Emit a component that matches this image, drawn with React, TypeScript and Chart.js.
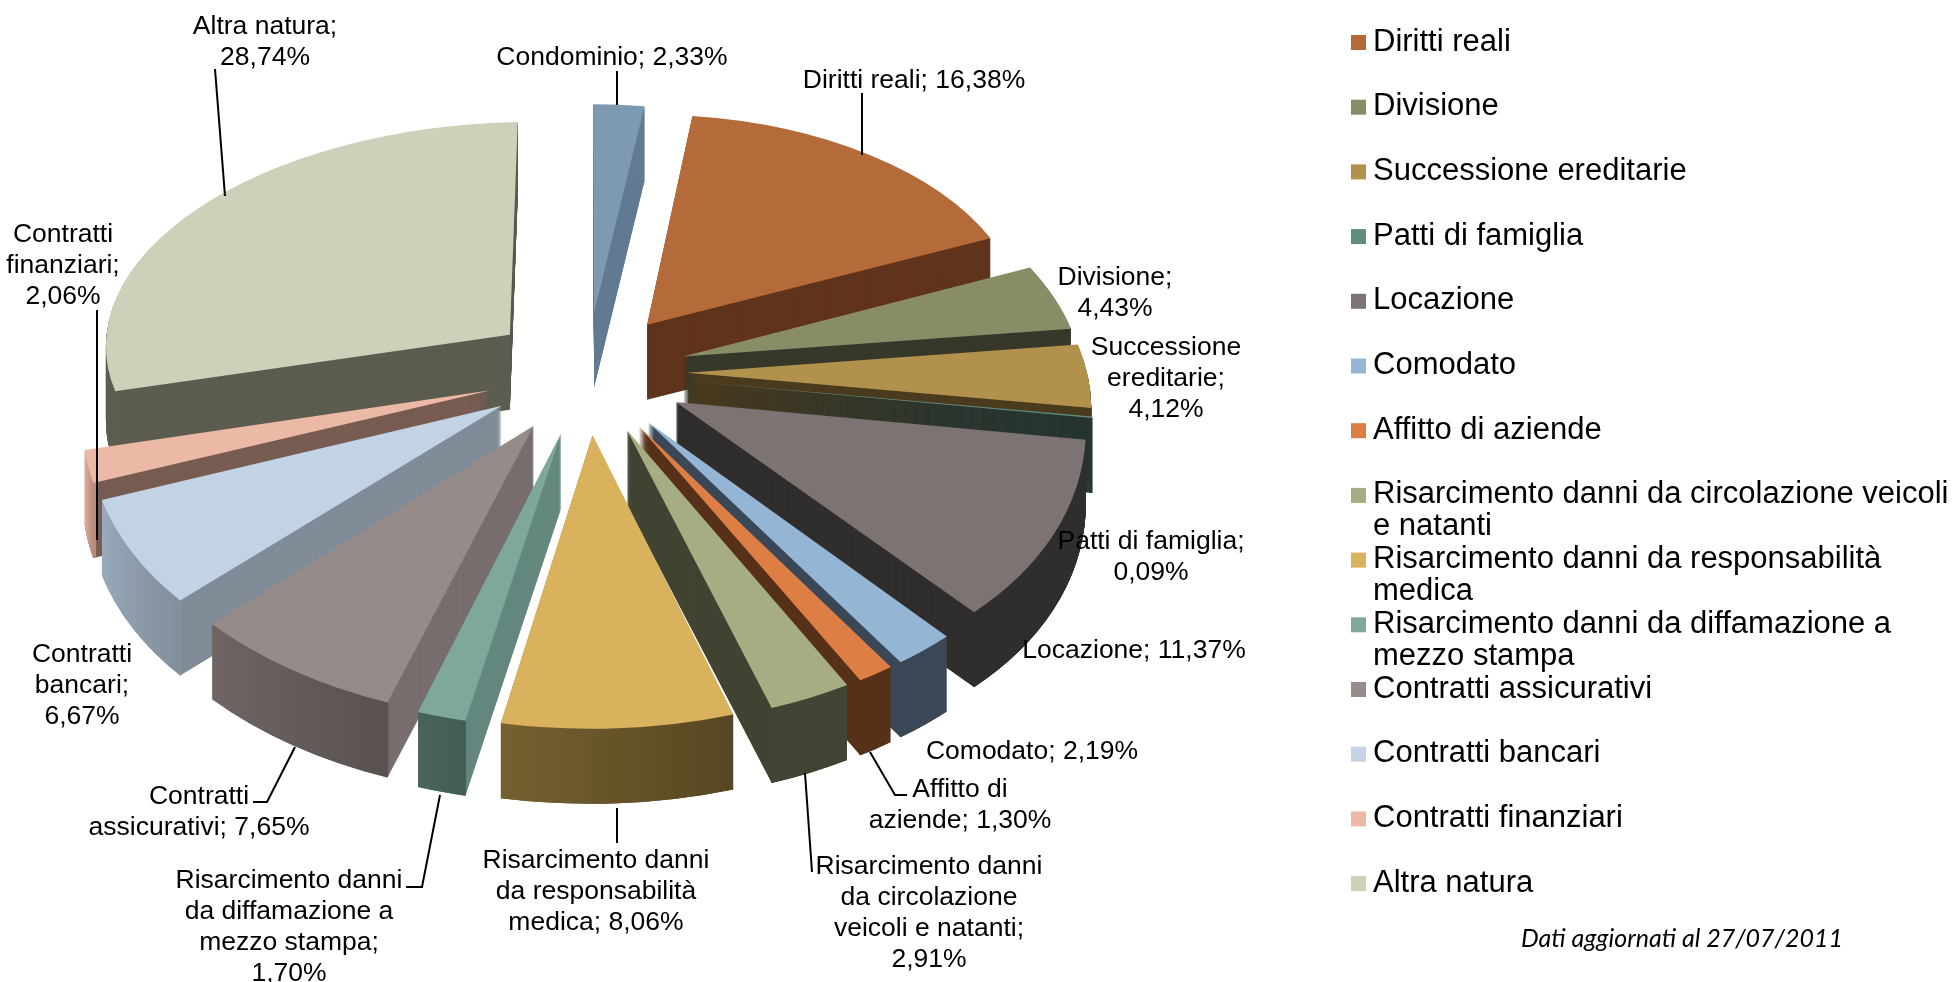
import React, { useEffect, useRef } from "react";
import { Chart, registerables } from "chart.js";

Chart.register(...registerables);

const categories = [
  "Condominio", "Diritti reali", "Divisione", "Successione ereditarie", "Patti di famiglia", "Locazione",
  "Comodato", "Affitto di aziende", "Risarcimento danni da circolazione veicoli e natanti",
  "Risarcimento danni da responsabilità medica", "Risarcimento danni da diffamazione a mezzo stampa",
  "Contratti assicurativi", "Contratti bancari", "Contratti finanziari", "Altra natura",
];
const values = [2.33, 16.38, 4.43, 4.12, 0.09, 11.37, 2.19, 1.3, 2.91, 8.06, 1.7, 7.65, 6.67, 2.06, 28.74];

const topColors = ["#7d9ab2", "#b56a39", "#888d68", "#b2914c", "#5f8b80", "#7d7373", "#94b6d4", "#dd7f45", "#a6ad82", "#dab25d", "#7ea89c", "#958b89", "#c1d3e4", "#ecb9a7", "#ced0ba"];
const cutWallColors = ["#627b92", "#60341b", "#37382a", "#4b3b1e", "#263532", "#302e2c", "#394757", "#57301a", "#414432", "#574622", "#64887f", "#786e6e", "#808c98", "#785c52", "#5c5c50"];
const outerFromColors = ["#627b92", "#60341b", "#37382a", "#4b3b1e", "#263532", "#302e2c", "#394757", "#57301a", "#414432", "#75602f", "#47635b", "#6e6564", "#9aaabb", "#e5b09e", "#5c5c50"];
const outerToColors = ["#627b92", "#60341b", "#37382a", "#4b3b1e", "#263532", "#302e2c", "#394757", "#57301a", "#414432", "#574622", "#435d55", "#595251", "#828f9c", "#b98b7a", "#5c5c50"];

const legendLines = [
  ["Diritti reali"], ["Divisione"], ["Successione ereditarie"], ["Patti di famiglia"], ["Locazione"], ["Comodato"],
  ["Affitto di aziende"], ["Risarcimento danni da circolazione veicoli", "e natanti"],
  ["Risarcimento danni da responsabilità", "medica"], ["Risarcimento danni da diffamazione a", "mezzo stampa"],
  ["Contratti assicurativi"], ["Contratti bancari"], ["Contratti finanziari"], ["Altra natura"],
];

const labelLines = [
  ["Condominio; 2,33%"], ["Diritti reali; 16,38%"], ["Divisione;", "4,43%"], ["Successione", "ereditarie;", "4,12%"],
  ["Patti di famiglia;", "0,09%"], ["Locazione; 11,37%"], ["Comodato; 2,19%"], ["Affitto di", "aziende; 1,30%"],
  ["Risarcimento danni", "da circolazione", "veicoli e natanti;", "2,91%"],
  ["Risarcimento danni", "da responsabilità", "medica; 8,06%"],
  ["Risarcimento danni", "da diffamazione a", "mezzo stampa;", "1,70%"],
  ["Contratti", "assicurativi; 7,65%"], ["Contratti", "bancari;", "6,67%"], ["Contratti", "finanziari;", "2,06%"],
  ["Altra natura;", "28,74%"],
];
const labelCenterX = [612, 914, 1115, 1166, 1151, 1134, 1032, 960, 929, 596, 289, 199, 82, 63, 265];
const labelFirstY = [58, 81, 278, 348, 542, 651, 752, 790, 867, 861, 881, 797, 655, 235, 27];

const leaders = [
  [[617, 71], [617, 105]],
  [[862, 93], [862, 155]],
  [],[],[],[],[],
  [[870, 752], [895, 795], [907, 795]],
  [[805, 773], [812, 872]],
  [[617, 808], [617, 843]],
  [[440, 795], [422, 887], [406, 887]],
  [[295, 747], [267, 802], [253, 802]],
  [],
  [[97, 310], [97, 540]],
  [[215, 69], [225, 196]],
];

const HUB_X = 587, HUB_Y = 372, EXPLODE = 100, RADIUS = 400, TILT = 0.613, PERSP = 0.000288, DEPTH = 75;

function project(x: number, z: number) {
  const w = 1 / (1 - PERSP * z);
  return [HUB_X + x * w, HUB_Y + TILT * z * w];
}

const pie3d = {
  id: "pie3d",
  beforeDatasetsDraw(chart: any) {
    const ctx = chart.ctx;
    const arcs = chart.getDatasetMeta(0).data as any[];
    const order = arcs
      .map((a, i) => ({ a, i, m: (a.startAngle + a.endAngle) / 2 }))
      .sort((p, q) => Math.sin(p.m) - Math.sin(q.m));
    for (const { a: arc, i, m } of order) {
      const half = Math.max((arc.endAngle - arc.startAngle) / 2, 0.05);
      const a1 = m - half, a2 = m + half;
      const tx = EXPLODE * Math.cos(m), tz = EXPLODE * Math.sin(m);
      const T = project(tx, tz);
      const P1 = project(tx + RADIUS * Math.cos(a1), tz + RADIUS * Math.sin(a1));
      const P2 = project(tx + RADIUS * Math.cos(a2), tz + RADIUS * Math.sin(a2));
      const e1x = RADIUS * Math.cos(a1), e1y = RADIUS * Math.sin(a1);
      const e2x = RADIUS * Math.cos(a2), e2y = RADIUS * Math.sin(a2);
      const det = e1x * e2y - e2x * e1y;
      const u1x = P1[0] - T[0], u1y = P1[1] - T[1], u2x = P2[0] - T[0], u2y = P2[1] - T[1];
      const ma = (u1x * e2y - u2x * e1y) / det;
      const mc = (u2x * e1x - u1x * e2x) / det;
      const mb = (u1y * e2y - u2y * e1y) / det;
      const md = (u2y * e1x - u1y * e2x) / det;
      const cx = arc.x, cy = arc.y;
      const place = (d: number) => {
        ctx.translate(0, d);
        ctx.transform(ma, mb, mc, md, T[0] - (ma * cx + mc * cy), T[1] - (mb * cx + md * cy));
      };
      const base = arc.options;
      const grad = ctx.createLinearGradient(
        cx + RADIUS * Math.cos(arc.startAngle), cy + RADIUS * Math.sin(arc.startAngle),
        cx + RADIUS * Math.cos(arc.endAngle), cy + RADIUS * Math.sin(arc.endAngle),
      );
      grad.addColorStop(0, outerToColors[i]);
      grad.addColorStop(1, outerFromColors[i]);
      for (let d = DEPTH; d >= 1; d--) {
        ctx.save();
        place(d);
        arc.options = { ...base, backgroundColor: cutWallColors[i], borderWidth: 0 };
        arc.innerRadius = 0;
        arc.draw(ctx);
        ctx.restore();
      }
      for (let d = DEPTH; d >= 1; d--) {
        ctx.save();
        place(d);
        arc.options = { ...base, backgroundColor: grad, borderWidth: 0 };
        arc.innerRadius = RADIUS - 3;
        arc.draw(ctx);
        ctx.restore();
      }
      ctx.save();
      place(0);
      arc.options = { ...base, backgroundColor: topColors[i], borderWidth: 0 };
      arc.innerRadius = 0;
      arc.draw(ctx);
      ctx.restore();
      arc.options = base;
    }
    return false;
  },
  afterDraw(chart: any) {
    const ctx = chart.ctx;
    ctx.save();
    ctx.strokeStyle = "#000000";
    ctx.lineWidth = 2;
    leaders.forEach((pts) => {
      if (!pts.length) return;
      ctx.beginPath();
      pts.forEach((p, k) => (k ? ctx.lineTo(p[0], p[1]) : ctx.moveTo(p[0], p[1])));
      ctx.stroke();
    });
    ctx.fillStyle = "#000000";
    ctx.font = '26.5px "Liberation Sans"';
    ctx.textAlign = "center";
    ctx.textBaseline = "middle";
    labelLines.forEach((lines, i) => {
      lines.forEach((t, k) => ctx.fillText(t, labelCenterX[i], labelFirstY[i] + k * 31));
    });
    ctx.textAlign = "left";
    ctx.font = '31px "Liberation Sans"';
    legendLines.forEach((lines, i) => {
      const y = 42 + i * 64.7;
      ctx.fillStyle = topColors[i + 1];
      ctx.fillRect(1351, y - 7, 15, 15);
      ctx.fillStyle = "#000000";
      lines.forEach((t, k) => ctx.fillText(t, 1373, y + k * 32));
    });
    ctx.font = 'italic 25px Lato';
    ctx.fillText("Dati aggiornati al 27/07/2011", 1521, 939);
    ctx.restore();
  },
};

export default function App() {
  const ref = useRef<HTMLCanvasElement>(null);
  useEffect(() => {
    const chart = new Chart(ref.current as HTMLCanvasElement, {
      type: "pie",
      data: {
        labels: categories,
        datasets: [{ data: values, backgroundColor: topColors, borderWidth: 0 }],
      },
      options: {
        responsive: false,
        animation: false,
        radius: RADIUS,
        plugins: { legend: { display: false }, tooltip: { enabled: false } },
      } as any,
      plugins: [pie3d as any],
    });
    return () => chart.destroy();
  }, []);
  return (
    <canvas
      ref={ref}
      width={1960}
      height={982}
      style={{ position: "absolute", left: 0, top: 0, display: "block", background: "#ffffff" }}
    />
  );
}
